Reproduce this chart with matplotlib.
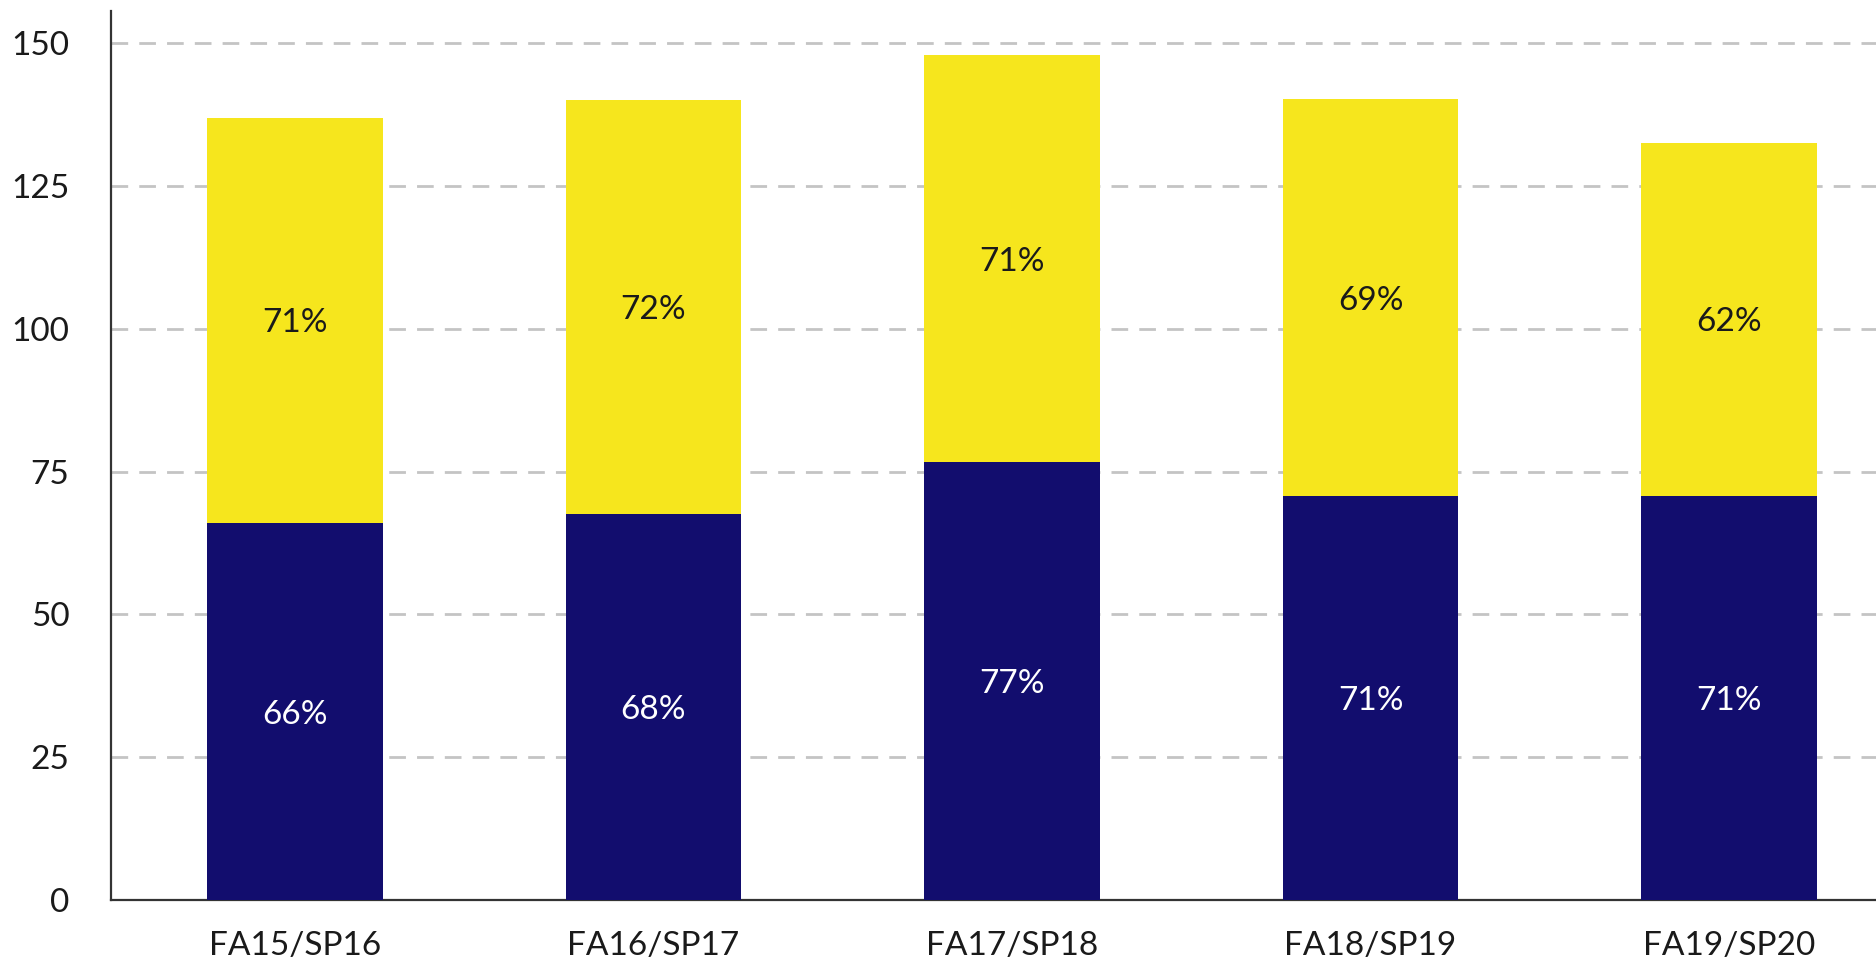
#!/usr/bin/env python3
"""Stacked bar chart: yearly counts with percentage labels."""

import matplotlib
matplotlib.use("Agg")
import matplotlib.pyplot as plt
import numpy as np

# data
years = ['FA15/SP16', 'FA16/SP17', 'FA17/SP18', 'FA18/SP19', 'FA19/SP20']
lower_vals = [66, 67.6, 76.6, 70.7, 70.7]
upper_vals = [71, 72.4, 71.4, 69.5, 61.9]
lower_labels = ['66%', '68%', '77%', '71%', '71%']
upper_labels = ['71%', '72%', '71%', '69%', '62%']
y_ticks = [0, 25, 50, 75, 100, 125, 150]

NAVY = '#120d6e'
YELLOW = '#f6e61d'

plt.rcParams['font.family'] = ['Lato', 'DejaVu Sans']


def main():
    fig = plt.figure(figsize=(18.76, 9.63), dpi=100)
    ax = fig.add_axes([0.0592, 0.0654, 0.9408, 0.9235])

    x = np.arange(len(years))
    width = 0.49
    ax.bar(x, lower_vals, width, color=NAVY, zorder=3)
    ax.bar(x, upper_vals, width, bottom=lower_vals, color=YELLOW, zorder=3)

    # percentage labels in the middle of each segment
    for i in range(len(years)):
        ax.text(x[i], lower_vals[i] / 2, lower_labels[i], ha='center',
                va='center_baseline', color='white', fontsize=24, zorder=4)
        ax.text(x[i], lower_vals[i] + upper_vals[i] / 2, upper_labels[i],
                ha='center', va='center_baseline', color='#1a1a1a',
                fontsize=24, zorder=4)

    ax.set_xlim(-0.513, 4.41)
    ax.set_ylim(0, 155.7)
    ax.set_xticks(x)
    ax.set_xticklabels(years)
    ax.set_yticks(y_ticks)

    ax.grid(axis='y', color='#c4c4c4', linestyle=(0, (6, 4)), linewidth=2, zorder=0)
    for side in ['top', 'right']:
        ax.spines[side].set_visible(False)
    for side in ['left', 'bottom']:
        ax.spines[side].set_color('#333333')
        ax.spines[side].set_linewidth(1.6)
    ax.tick_params(axis='both', length=0, labelsize=24, colors='#1a1a1a')
    ax.tick_params(axis='y', pad=30)
    ax.tick_params(axis='x', pad=22)

    fig.savefig('out.png', dpi=100)
    plt.close(fig)


if __name__ == '__main__':
    main()
